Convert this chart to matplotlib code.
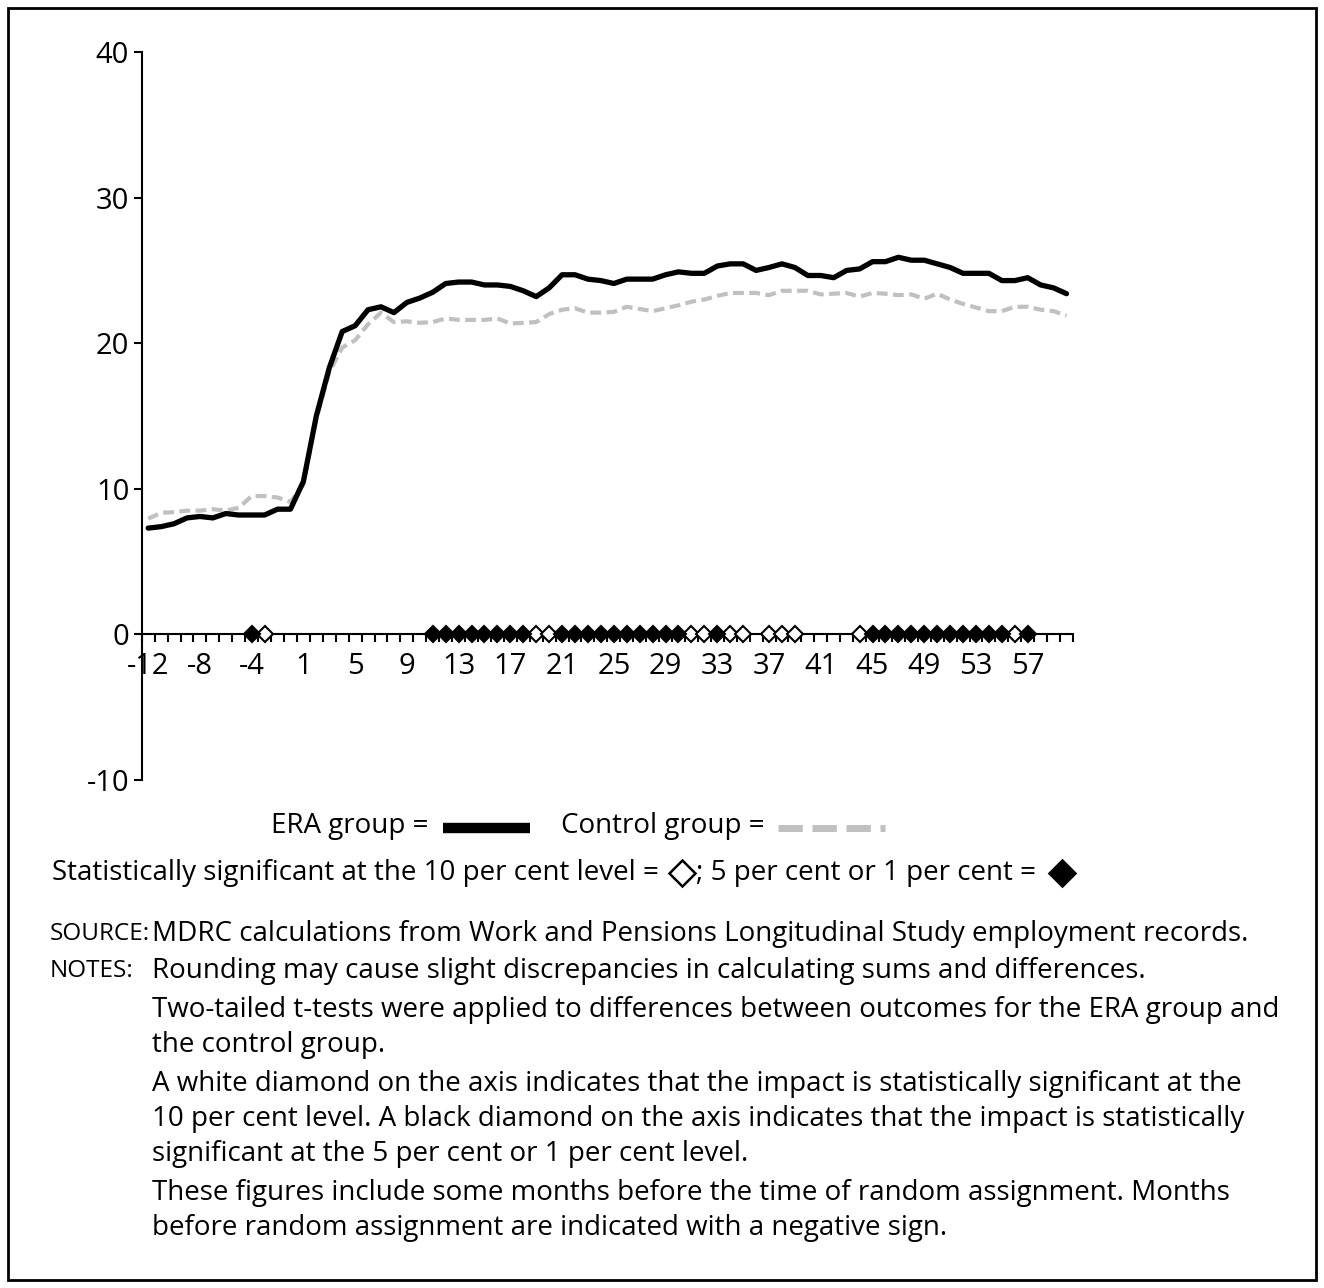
import numpy as np
import matplotlib
matplotlib.use('Agg')
import matplotlib.pyplot as plt
from matplotlib.lines import Line2D
from matplotlib.patches import Rectangle

plt.rcParams['font.family'] = ['Open Sans', 'DejaVu Sans']
plt.rcParams['axes.unicode_minus'] = False

# months relative to random assignment (no month 0)
months = list(range(-12, 0)) + list(range(1, 61))

era = [7.3, 7.4, 7.6, 8.0, 8.1, 8.0, 8.3, 8.2, 8.2, 8.2, 8.6, 8.6,
       10.5, 15.0, 18.3, 20.8, 21.2, 22.3, 22.5, 22.1, 22.8, 23.1,
       23.5, 24.1, 24.2, 24.2, 24.0, 24.0, 23.9, 23.6, 23.2, 23.8,
       24.7, 24.7, 24.4, 24.3, 24.1, 24.4, 24.4, 24.4, 24.7, 24.9,
       24.8, 24.8, 25.3, 25.45, 25.45, 25.0, 25.2, 25.45, 25.2, 24.65,
       24.65, 24.5, 25.0, 25.1, 25.6, 25.6, 25.9, 25.7, 25.7, 25.45,
       25.2, 24.8, 24.8, 24.8, 24.3, 24.3, 24.5, 24.0, 23.8, 23.4]

control = [7.95, 8.35, 8.4, 8.5, 8.5, 8.6, 8.5, 8.7, 9.5, 9.5, 9.4, 9.1,
           10.3, 14.8, 18.0, 19.7, 20.2, 21.3, 22.1, 21.45, 21.5, 21.4,
           21.45, 21.7, 21.6, 21.6, 21.6, 21.7, 21.35, 21.4, 21.45, 22.0,
           22.3, 22.4, 22.1, 22.1, 22.15, 22.5, 22.35, 22.2, 22.4, 22.6,
           22.85, 23.0, 23.25, 23.45, 23.45, 23.45, 23.3, 23.6, 23.6, 23.6,
           23.35, 23.4, 23.45, 23.2, 23.45, 23.4, 23.3, 23.35, 23.05, 23.4,
           23.0, 22.7, 22.45, 22.2, 22.2, 22.5, 22.5, 22.3, 22.2, 21.9]

# significance markers (months)
sig10 = [-3, 19, 20, 31, 32, 34, 35, 37, 38, 39, 44, 56]
sig5 = [-4, 11, 12, 13, 14, 15, 16, 17, 18, 21, 22, 23, 24, 25, 26, 27, 28,
        29, 30, 33, 45, 46, 47, 48, 49, 50, 51, 52, 53, 54, 55, 57]

yticks = [-10, 0, 10, 20, 30, 40]

W, H = 1324, 1288
fs = 20


def px(x, y):
    return x / W, 1 - y / H


fig = plt.figure(figsize=(W / 100, H / 100), dpi=100)
ax = fig.add_axes([141.7 / W, 1 - 780 / H, (1073 - 141.7) / W, (780 - 52) / H])

x = np.arange(len(months))
ax.plot(x, control, color='#c0c0c0', lw=3, dashes=(2.6, 1.3), zorder=2)
ax.plot(x, era, color='black', lw=3.8, zorder=3, solid_capstyle='round')

i10 = [months.index(m) for m in sig10]
i5 = [months.index(m) for m in sig5]
ax.plot(i10, np.zeros(len(i10)), ls='none', marker='D', ms=8.5, mfc='white',
        mec='black', mew=1.5, clip_on=False, zorder=5)
ax.plot(i5, np.zeros(len(i5)), ls='none', marker='D', ms=8.5, mfc='black',
        mec='black', mew=1.5, clip_on=False, zorder=5)

ax.set_xlim(-0.5, len(months) - 0.5)
ax.set_ylim(-10, 40)
ax.spines['top'].set_visible(False)
ax.spines['right'].set_visible(False)
ax.spines['bottom'].set_position(('data', 0))
ax.spines['bottom'].set_linewidth(1.5)
ax.spines['left'].set_linewidth(1.5)

ax.set_yticks(yticks)
ax.tick_params(axis='y', direction='out', length=6, width=1.5, labelsize=21, pad=3)
ax.set_xticks(x[::4])
ax.set_xticklabels([str(m) for m in months[::4]])
ax.set_xticks(np.arange(-0.5, len(months)), minor=True)
ax.tick_params(axis='x', which='major', length=0, pad=13, labelsize=21)
ax.tick_params(axis='x', which='minor', direction='out', length=6, width=1.5)

# legend rows
fig.text(*px(271, 826), 'ERA group =', fontsize=fs, ha='left', va='center')
fig.add_artist(Line2D([443 / W, 530 / W], [1 - 828 / H] * 2, color='black', lw=7.5,
                      solid_capstyle='butt'))
fig.text(*px(561, 826), 'Control group =', fontsize=fs, ha='left', va='center')
fig.add_artist(Line2D([778 / W, 885 / W], [1 - 828 / H] * 2, color='#c0c0c0', lw=5,
                      dashes=(3.5, 1.4)))

fig.text(*px(52, 873), 'Statistically significant at the 10 per cent level =',
         fontsize=fs, ha='left', va='center')
fig.add_artist(Line2D([682 / W], [1 - 873 / H], ls='none', marker='D', ms=13,
                      mfc='white', mec='black', mew=1.8))
fig.text(*px(696, 873), '; 5 per cent or 1 per cent =', fontsize=fs, ha='left', va='center')
fig.add_artist(Line2D([1062 / W], [1 - 873 / H], ls='none', marker='D', ms=13,
                      mfc='black', mec='black', mew=1.8))

# source and notes
fig.text(*px(50, 934), 'SOURCE:', fontsize=17.5, ha='left', va='center')
fig.text(*px(152, 934), 'MDRC calculations from Work and Pensions Longitudinal Study employment records.',
         fontsize=fs, ha='left', va='center')
fig.text(*px(50, 971), 'NOTES:', fontsize=17.5, ha='left', va='center')
notes = [(971, 'Rounding may cause slight discrepancies in calculating sums and differences.'),
         (1010, 'Two-tailed t-tests were applied to differences between outcomes for the ERA group and'),
         (1045, 'the control group.'),
         (1084, 'A white diamond on the axis indicates that the impact is statistically significant at the'),
         (1119, '10 per cent level. A black diamond on the axis indicates that the impact is statistically'),
         (1154, 'significant at the 5 per cent or 1 per cent level.'),
         (1193, 'These figures include some months before the time of random assignment. Months'),
         (1228, 'before random assignment are indicated with a negative sign.')]
for yy, t in notes:
    fig.text(*px(152, yy), t, fontsize=fs, ha='left', va='center')

# frame round the whole figure
fig.add_artist(Rectangle((8 / W, 8 / H), (1316 - 8) / W, (1280 - 8) / H,
                         transform=fig.transFigure, fill=False, lw=2, ec='black'))

fig.savefig('out.png', dpi=100)
